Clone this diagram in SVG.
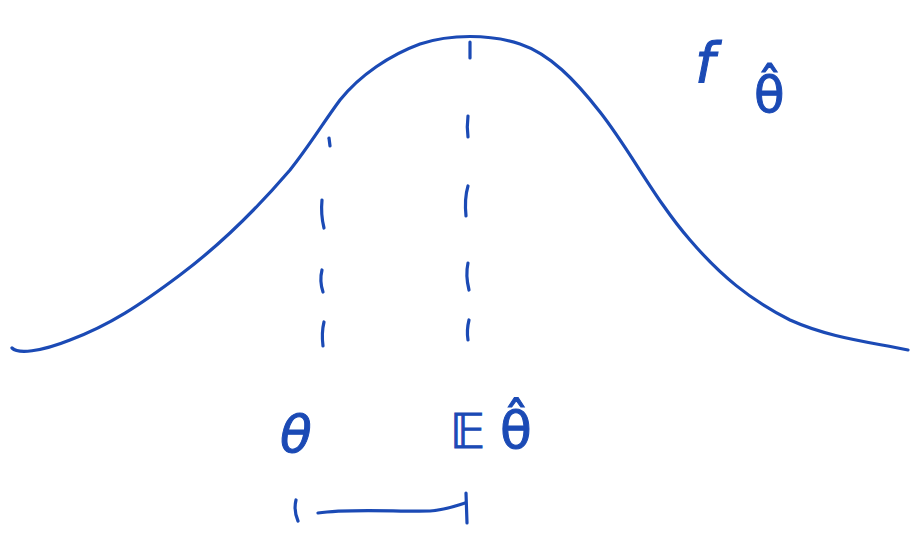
<svg xmlns="http://www.w3.org/2000/svg" width="910" height="536" viewBox="0 0 910 536">
<style>
.s{fill:none;stroke:#1b4ab5;stroke-width:3.2;stroke-linecap:round;stroke-linejoin:round}
.t{fill:#1b4ab5;stroke:#1b4ab5;stroke-width:1;font-family:"DejaVu Sans","Liberation Serif",serif}
</style>
<rect width="910" height="536" fill="#fff"/>
<g id="connectors">
<path id="curve" class="s" d="M12,348 C18,354 40,352 70,340 C110,325 140,305 180,275 C220,245 260,205 290,170 C310,145 325,120 340,100 C360,75 390,55 420,44 C450,34 490,34 520,44 C550,54 575,80 600,112 C630,150 655,200 690,240 C720,275 750,300 790,320 C830,338 870,342 908,350"/>
<g id="dash1" class="s">
<path d="M329,138 L330,146"/>
<path d="M322,200 C321,210 322,220 324,228"/>
<path d="M322,270 C320,278 321,286 323,292"/>
<path d="M324,322 C322,330 322,338 323,346"/>
</g>
<g id="dash2" class="s">
<path d="M470,42 L470,58"/>
<path d="M468,116 C467,124 467,130 468,137"/>
<path d="M468,186 C465,196 465,206 466,216"/>
<path d="M468,263 C466,272 467,282 469,290"/>
<path d="M469,320 C467,328 467,334 468,340"/>
</g>
<g id="bracket" class="s">
<path d="M296,500 C294,508 295,514 298,521"/>
<path d="M318,513 C350,508 400,512 430,511 C445,510 455,506 465,503"/>
<path d="M466,493 L467,523"/>
</g>
</g>
<g id="label-f"><text class="t" x="695" y="82" font-size="56" font-style="italic">f</text></g>
<g id="label-fsub"><text class="t" x="754" y="112" font-size="50">θ̂</text></g>
<g id="label-theta"><text class="t" x="280" y="452" font-size="52" font-style="italic">θ</text></g>
<g id="label-E"><text class="t" x="450" y="448" font-size="48">𝔼</text></g>
<g id="label-thetahat"><text class="t" x="500" y="448" font-size="52">θ̂</text></g>
</svg>
